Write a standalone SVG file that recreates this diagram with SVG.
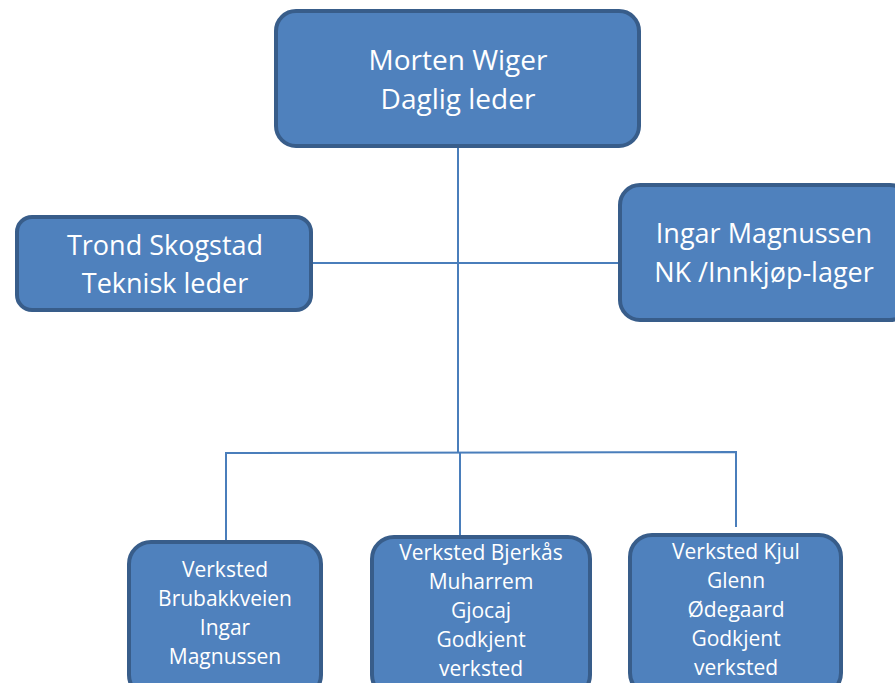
<svg xmlns="http://www.w3.org/2000/svg" width="895" height="683" viewBox="0 0 895 683">
<style>
.box{fill:#4f81bd;stroke:#385d8a;stroke-width:4}
.conn{stroke:#4a7ebb;stroke-width:2;fill:none}
text{fill:#ffffff;font-family:"Open Sans","Noto Sans",sans-serif;text-anchor:middle}
.big{font-size:27px}
.top{font-size:28px}
.small{font-size:21px}
</style>
<rect width="895" height="683" fill="#ffffff"/>
<g id="connectors">
<line class="conn" x1="458" y1="148" x2="458" y2="452"/>
<line class="conn" x1="313" y1="263" x2="619" y2="263"/>
<polyline class="conn" points="226,541 226,453 736,452 736,527"/>
<line class="conn" x1="460" y1="452" x2="460" y2="536"/>
</g>
<g id="morten">
<rect class="box" x="276" y="11" width="363" height="135" rx="20"/>
<text class="top" x="458" y="70">Morten Wiger</text>
<text class="top" x="458" y="109">Daglig leder</text>
</g>
<g id="trond">
<rect class="box" x="17" y="217" width="294" height="93" rx="15"/>
<text class="big" x="165" y="255">Trond Skogstad</text>
<text class="big" x="165" y="293">Teknisk leder</text>
</g>
<g id="ingar">
<rect class="box" x="620" y="185" width="290" height="135" rx="20"/>
<text class="big" x="764" y="243">Ingar Magnussen</text>
<text class="big" x="764" y="282">NK /Innkjøp-lager</text>
</g>
<g id="brubakkveien">
<rect class="box" x="129" y="542" width="192" height="155" rx="22"/>
<text class="small" x="225" y="577">Verksted</text>
<text class="small" x="225" y="606">Brubakkveien</text>
<text class="small" x="225" y="635">Ingar</text>
<text class="small" x="225" y="664">Magnussen</text>
</g>
<g id="bjerkaas">
<rect class="box" x="372" y="537" width="218" height="160" rx="22"/>
<text class="small" x="481" y="560">Verksted Bjerkås</text>
<text class="small" x="481" y="589">Muharrem</text>
<text class="small" x="481" y="618">Gjocaj</text>
<text class="small" x="481" y="647">Godkjent</text>
<text class="small" x="481" y="676">verksted</text>
</g>
<g id="kjul">
<rect class="box" x="630" y="535" width="211" height="160" rx="22"/>
<text class="small" x="736" y="559">Verksted Kjul</text>
<text class="small" x="736" y="588">Glenn</text>
<text class="small" x="736" y="617">Ødegaard</text>
<text class="small" x="736" y="646">Godkjent</text>
<text class="small" x="736" y="675">verksted</text>
</g>
</svg>
